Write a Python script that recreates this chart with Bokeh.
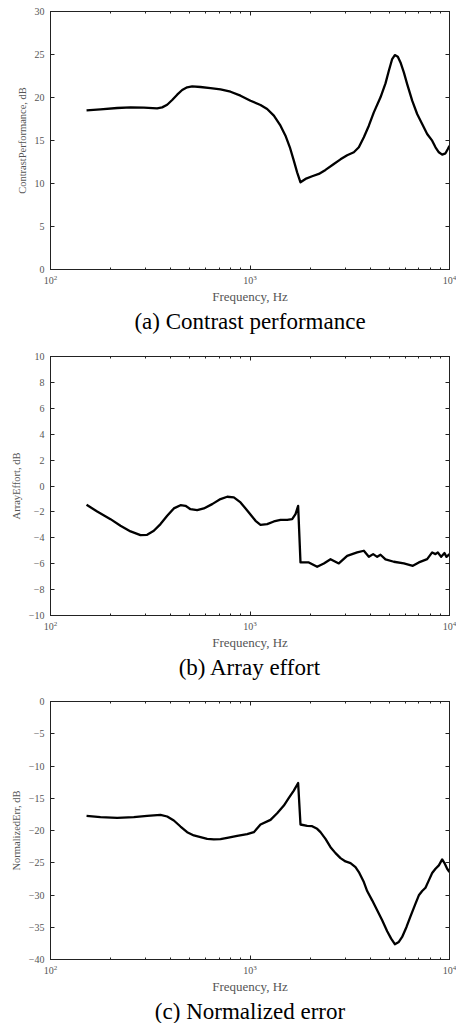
from bokeh.plotting import figure
from bokeh.layouts import column
from bokeh.models import (LinearAxis, LogAxis, LogTicker, FixedTicker, Range1d,
                          Title, CustomJSTickFormatter)
from bokeh.embed import file_html
from bokeh.resources import INLINE

# (a) Contrast performance, dB
freq_a = [151.6, 178, 216, 252, 293.7, 342.4, 362.8, 384.5, 407.3, 431.5, 457.1, 484.2,
          513.1, 564.8, 633.9, 711.4, 798.6, 896.4, 1006, 1129, 1219, 1317, 1422, 1506,
          1584, 1658, 1723, 1791, 1897, 2049, 2213, 2390, 2632, 2842, 3069, 3315, 3512,
          3721, 3942, 4175, 4510, 4777, 4965, 5160, 5321, 5508, 5681, 5904, 6135, 6501,
          6885, 7295, 7727, 8187, 8508, 8843, 9190, 9548, 9809, 10000]
contrast = [18.51, 18.62, 18.78, 18.85, 18.82, 18.74, 18.85, 19.16, 19.71, 20.33, 20.87,
            21.18, 21.29, 21.22, 21.10, 20.94, 20.67, 20.21, 19.63, 19.13, 18.66, 17.89,
            16.72, 15.56, 14.21, 12.66, 11.30, 10.14, 10.53, 10.84, 11.11, 11.58, 12.27,
            12.81, 13.28, 13.63, 14.21, 15.37, 16.72, 18.27, 20.02, 21.64, 23.11, 24.47,
            24.93, 24.74, 24.08, 22.92, 21.56, 19.63, 18.08, 16.92, 15.76, 14.98, 14.21,
            13.63, 13.36, 13.51, 14.01, 14.40]

# (b) Array effort, dB
freq_b = [151.6, 171.4, 199.9, 224.3, 252, 282.5, 305.1, 329.6, 355.9, 384.5, 415.2,
          448.4, 474.9, 503.1, 543.5, 587.0, 646.3, 711.4, 768.6, 829.8, 896.4, 986.7,
          1066, 1129, 1219, 1317, 1422, 1536, 1627, 1691, 1743, 1791, 1972, 2171, 2345,
          2533, 2788, 3069, 3444, 3721, 3942, 4143, 4340, 4510, 4777, 5260, 5904, 6550,
          7020, 7727, 8187, 8508, 8740, 9084, 9438, 9661, 10000]
effort = [-1.45, -1.97, -2.56, -3.07, -3.51, -3.79, -3.77, -3.46, -2.94, -2.30, -1.73,
          -1.48, -1.53, -1.79, -1.87, -1.73, -1.40, -1.01, -0.83, -0.88, -1.27, -2.04,
          -2.69, -3.00, -2.94, -2.74, -2.61, -2.61, -2.56, -2.17, -1.53, -5.90, -5.90,
          -6.24, -5.98, -5.65, -5.98, -5.39, -5.13, -5.00, -5.47, -5.26, -5.47, -5.31,
          -5.67, -5.85, -5.98, -6.16, -5.90, -5.65, -5.13, -5.26, -5.13, -5.47, -5.18,
          -5.47, -5.26]

# (c) Normalized error, dB
freq_c = [151.6, 178, 216, 261.6, 305.1, 355.9, 384.5, 415.2, 448.4, 484.2, 523.0,
          564.8, 610.0, 658.6, 711.4, 768.6, 862.4, 967.9, 1045, 1129, 1267, 1368, 1478,
          1566, 1658, 1743, 1791, 1935, 2049, 2171, 2256, 2390, 2533, 2683, 2842, 3011,
          3190, 3379, 3512, 3721, 3866, 4096, 4340, 4598, 4871, 5100, 5321, 5572, 5790,
          6088, 6375, 6754, 7020, 7295, 7580, 7878, 8187, 8508, 8843, 9190, 9438, 9734,
          10000]
norm_err = [-17.73, -17.94, -18.04, -17.94, -17.73, -17.58, -17.83, -18.45, -19.38,
            -20.26, -20.77, -21.03, -21.29, -21.39, -21.34, -21.13, -20.83, -20.57,
            -20.26, -19.07, -18.35, -17.32, -16.13, -14.95, -13.81, -12.63, -19.07,
            -19.28, -19.33, -19.74, -20.26, -21.29, -22.58, -23.51, -24.28, -24.80,
            -25.05, -25.67, -26.45, -27.99, -29.39, -30.83, -32.37, -33.92, -35.62,
            -36.76, -37.63, -37.27, -36.50, -34.95, -33.30, -31.34, -30.05, -29.39,
            -28.87, -27.73, -26.60, -25.93, -25.41, -24.48, -25.05, -25.93, -26.45]

yticks_a = [0, 5, 10, 15, 20, 25, 30]
yticks_b = [-10, -8, -6, -4, -2, 0, 2, 4, 6, 8, 10]
yticks_c = [-40, -35, -30, -25, -20, -15, -10, -5, 0]

SERIF = "Liberation Serif"
GREY = "#555555"


def blank_labels():
    return CustomJSTickFormatter(code="return ''")


def style_ticks(ax):
    ax.major_tick_in = 4
    ax.major_tick_out = 0
    ax.minor_tick_in = 2
    ax.minor_tick_out = 0
    ax.axis_line_color = "#222222"
    ax.major_tick_line_color = "#222222"
    ax.minor_tick_line_color = "#222222"


def make_panel(freq, vals, ylabel, yr, yticks, caption, top, bottom, height):
    p = figure(width=456, height=height, x_axis_type="log",
               x_range=Range1d(100, 10000), y_range=Range1d(*yr),
               output_backend="svg", toolbar_location=None,
               min_border_left=50, min_border_right=7,
               min_border_top=top, min_border_bottom=bottom)
    p.xgrid.visible = False
    p.ygrid.visible = False
    p.outline_line_color = "#222222"
    p.outline_line_width = 1

    xa = p.xaxis[0]
    style_ticks(xa)
    xa.ticker = LogTicker(num_minor_ticks=10)
    xa.major_label_text_font = SERIF
    xa.major_label_text_font_size = "10px"
    xa.major_label_text_color = GREY
    xa.major_label_standoff = 5
    xa.axis_label = "Frequency, Hz"
    xa.axis_label_text_font = SERIF
    xa.axis_label_text_font_style = "normal"
    xa.axis_label_text_font_size = "13px"
    xa.axis_label_text_color = GREY
    xa.axis_label_standoff = 2

    ya = p.yaxis[0]
    style_ticks(ya)
    ya.ticker = FixedTicker(ticks=yticks)
    ya.minor_tick_in = 0
    ya.major_label_text_font = SERIF
    ya.major_label_text_font_size = "10px"
    ya.major_label_text_color = GREY
    ya.major_label_standoff = 6
    ya.axis_label = ylabel
    ya.axis_label_text_font = SERIF
    ya.axis_label_text_font_style = "normal"
    ya.axis_label_text_font_size = "10.5px"
    ya.axis_label_text_color = GREY
    ya.axis_label_standoff = 4

    top_ax = LogAxis(ticker=LogTicker(num_minor_ticks=10), formatter=blank_labels(),
                     major_label_standoff=0)
    style_ticks(top_ax)
    p.add_layout(top_ax, "above")

    right_ax = LinearAxis(ticker=FixedTicker(ticks=yticks), formatter=blank_labels(),
                          major_label_standoff=0)
    style_ticks(right_ax)
    right_ax.minor_tick_in = 0
    p.add_layout(right_ax, "right")

    p.line(freq, vals, line_color="black", line_width=2.3, line_join="round")

    p.add_layout(Title(text=caption, align="center", text_font=SERIF,
                       text_font_size="23px", text_font_style="normal",
                       text_color="black", standoff=0), "below")
    return p


pa = make_panel(freq_a, contrast, "ContrastPerformance, dB", (0, 30), yticks_a,
                "(a) Contrast performance", 11, 71, 340)
pb = make_panel(freq_b, effort, "ArrayEffort, dB", (-10, 10), yticks_b,
                "(b) Array effort", 16, 65, 340)
pc = make_panel(freq_c, norm_err, "NormalizedErr, dB", (-40, 0), yticks_c,
                "(c) Normalized error", 21, 63, 343)

layout = column(pa, pb, pc, spacing=0)
open("out.html", "w").write(file_html(layout, INLINE))
